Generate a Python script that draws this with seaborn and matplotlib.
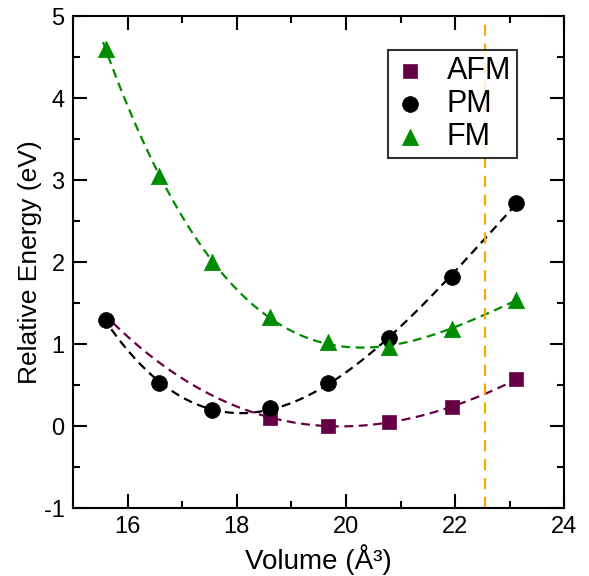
import numpy as np
import pandas as pd
import matplotlib
matplotlib.use("Agg")
import matplotlib.pyplot as plt
import seaborn as sns
from matplotlib.ticker import MultipleLocator

# values
vol = [15.6, 16.58, 17.55, 18.61, 19.67, 20.78, 21.94, 23.12]
pm_energy = [1.29, 0.52, 0.19, 0.22, 0.52, 1.08, 1.82, 2.72]
fm_energy = [4.60, 3.05, 2.00, 1.33, 1.02, 0.97, 1.18, 1.54]
afm_vol = [18.61, 19.67, 20.78, 21.94, 23.12]
afm_energy = [0.10, 0.00, 0.05, 0.23, 0.57]
# points read along the dashed AFM fit where it has no markers
afm_guide_vol = [15.7, 16.77, 17.73]
afm_guide_energy = [1.28, 0.68, 0.32]
vline_vol = 22.54

sns.set_style("ticks")
plt.rcParams["font.family"] = ["Liberation Sans", "DejaVu Sans"]
plt.rcParams["axes.unicode_minus"] = False
for key in ["text.color", "axes.labelcolor", "xtick.color", "ytick.color", "axes.edgecolor"]:
    plt.rcParams[key] = "black"

fig = plt.figure(figsize=(5.89, 5.76), dpi=100)
ax = fig.add_axes([0.124, 0.118, 0.834, 0.854])

purple = "#660044"
green = "#008b00"
grid = np.linspace(15.55, 23.15, 200)

# fitted dashed curves
afm_fit = np.polyfit(afm_guide_vol + afm_vol, afm_guide_energy + afm_energy, 3)
pm_fit = np.polyfit(vol, pm_energy, 3)
fm_fit = np.polyfit(vol, fm_energy, 3)
dash = (0, (4, 2.5))
sns.lineplot(x=grid, y=np.polyval(fm_fit, grid), ax=ax, color=green, lw=1.6, linestyle=dash)
sns.lineplot(x=grid, y=np.polyval(afm_fit, grid), ax=ax, color=purple, lw=1.6, linestyle=dash)
sns.lineplot(x=grid, y=np.polyval(pm_fit, grid), ax=ax, color="black", lw=1.6, linestyle=dash)

ax.axvline(vline_vol, color="#ffa500", lw=1.6, linestyle=(0, (5, 3.5)))

# markers
sns.scatterplot(x=afm_vol, y=afm_energy, ax=ax, marker="s", color=purple, s=110,
                edgecolor=purple, linewidth=0.5, label="AFM", zorder=5)
sns.scatterplot(x=vol, y=pm_energy, ax=ax, marker="o", color="black", s=130,
                edgecolor="black", linewidth=0.5, label="PM", zorder=5)
sns.scatterplot(x=vol, y=fm_energy, ax=ax, marker="^", color=green, s=140,
                edgecolor=green, linewidth=0.5, label="FM", zorder=5)

ax.set_xlim(15, 24)
ax.set_ylim(-1, 5)
ax.xaxis.set_major_locator(MultipleLocator(2))
ax.xaxis.set_minor_locator(MultipleLocator(1))
ax.yaxis.set_major_locator(MultipleLocator(1))
ax.yaxis.set_minor_locator(MultipleLocator(0.5))
ax.tick_params(which="both", direction="in", top=True, right=True, width=1.5,
               labelsize=17, pad=6)
ax.tick_params(which="major", length=10)
ax.tick_params(which="minor", length=5)
for sp in ax.spines.values():
    sp.set_visible(True)
    sp.set_linewidth(1.5)
    sp.set_color("black")

ax.set_xlabel("Volume (Å³)", fontsize=20, labelpad=4)
ax.set_ylabel("Relative Energy (eV)", fontsize=19, labelpad=1)

leg = ax.legend(loc="upper left", bbox_to_anchor=(0.642, 0.931), borderaxespad=0,
                fontsize=22, frameon=True, fancybox=False, edgecolor="black",
                handletextpad=0.7, borderpad=0.2, labelspacing=0.1, handlelength=1.0)
leg.get_frame().set_linewidth(1.5)

fig.savefig("out.png", dpi=100)
